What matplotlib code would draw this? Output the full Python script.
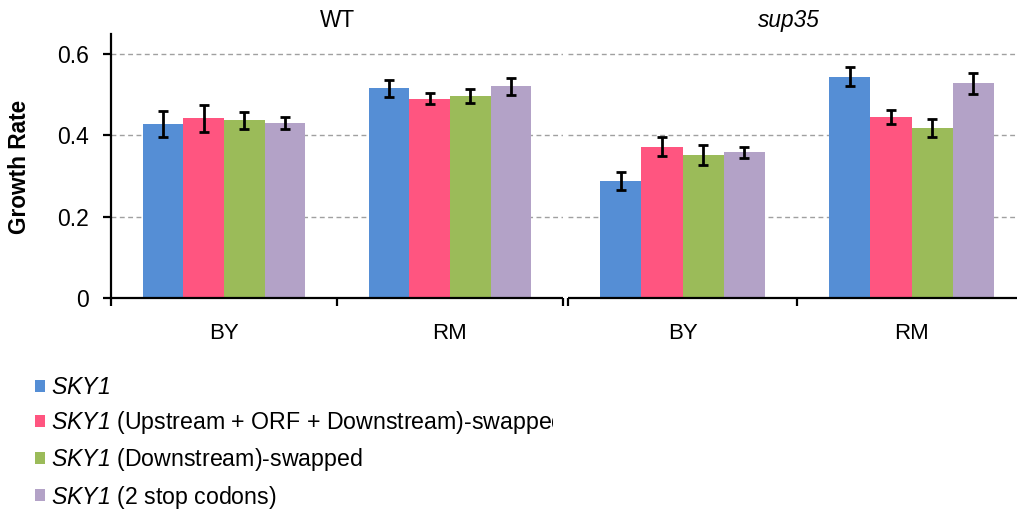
import matplotlib
matplotlib.use("Agg")
import matplotlib.pyplot as plt
import numpy as np
from matplotlib.patches import Patch
from matplotlib.transforms import Bbox, TransformedBbox
from matplotlib.ticker import FixedLocator, FuncFormatter

plt.rcParams["font.family"] = ["Liberation Sans", "DejaVu Sans"]
# gene names are typeset in math mode, fully italic (digits included)
plt.rcParams["mathtext.fontset"] = "custom"
plt.rcParams["mathtext.rm"] = "Liberation Sans:italic"
plt.rcParams["mathtext.it"] = "Liberation Sans:italic"

# ---- data ----
panels = ["WT", "sup35"]
strains = ["BY", "RM"]
series_labels = [
    r"$SKY1$",
    r"$SKY1$ (Upstream + ORF + Downstream)-swapped",
    r"$SKY1$ (Downstream)-swapped",
    r"$SKY1$ (2 stop codons)",
]
colors = ["#558ED5", "#FF5580", "#9BBB59", "#B3A2C7"]

# growth rate per series, [BY, RM]
wt_values = [
    [0.428, 0.516],
    [0.442, 0.490],
    [0.437, 0.497],
    [0.430, 0.521],
]
wt_errors = [
    [0.032, 0.021],
    [0.033, 0.014],
    [0.021, 0.017],
    [0.014, 0.021],
]
sup35_values = [
    [0.288, 0.544],
    [0.372, 0.446],
    [0.352, 0.419],
    [0.358, 0.528],
]
sup35_errors = [
    [0.022, 0.023],
    [0.024, 0.017],
    [0.024, 0.022],
    [0.014, 0.026],
]
yticks = [0, 0.2, 0.4, 0.6]

W, H = 1017, 509
fig = plt.figure(figsize=(W / 100, H / 100), dpi=100)

y_bot = (H - 298) / H
y_top = (H - 33.7) / H
ax_l = fig.add_axes([111 / W, y_bot, (563 - 111) / W, y_top - y_bot])
ax_r = fig.add_axes([568 / W, y_bot, (1026 - 568) / W, y_top - y_bot])

bar_w = 0.18
x = np.arange(len(strains)) + 0.5
offsets = (np.arange(4) - 1.5) * bar_w

for ax, vals, errs in [(ax_l, wt_values, wt_errors),
                       (ax_r, sup35_values, sup35_errors)]:
    for i in range(4):
        ax.bar(x + offsets[i], vals[i], width=bar_w, color=colors[i],
               edgecolor="none", zorder=2)
        ax.errorbar(x + offsets[i], vals[i], yerr=errs[i], fmt="none",
                    ecolor="black", elinewidth=2.0, capsize=3.4,
                    capthick=2.0, zorder=3)
    ax.set_xlim(0, 2)
    ax.set_ylim(0, 0.65)
    ax.set_yticks(yticks)
    ax.yaxis.grid(True, color="#A0A0A0", linestyle=(0, (3.5, 2.5)),
                  linewidth=1.0, zorder=0)
    ax.set_axisbelow(True)
    for s in ["top", "right"]:
        ax.spines[s].set_visible(False)
    ax.spines["bottom"].set_linewidth(1.6)
    ax.spines["bottom"].set_capstyle("butt")
    # category dividers as major ticks, names as minor ticks
    ax.xaxis.set_major_locator(FixedLocator([0, 1, 2]))
    ax.xaxis.set_major_formatter(FuncFormatter(lambda v, p: ""))
    ax.xaxis.set_minor_locator(FixedLocator(x))
    ax.set_xticklabels(strains, minor=True)
    ax.tick_params(axis="x", which="major", direction="out", length=6,
                   width=1.6)
    ax.tick_params(axis="x", which="minor", length=0, pad=18, labelsize=16)

ax_l.spines["left"].set_linewidth(1.6)
ax_l.tick_params(axis="y", direction="out", length=6, width=1.6, pad=10,
                 labelsize=16.5)
ax_l.yaxis.set_major_formatter(
    FuncFormatter(lambda v, p: "0" if v == 0 else f"{v:.1f}"))

ax_r.spines["left"].set_visible(False)
ax_r.tick_params(axis="y", left=False, labelleft=False)

ax_l.set_title(panels[0], fontsize=16.3, pad=4.5)
ax_r.set_title(panels[1], fontsize=16.3, pad=4.5, style="italic", x=0.483)

fig.text(20 / W, 1 - 167 / H, "Growth Rate", rotation=90, ha="center",
         va="center", fontsize=16.3, fontweight="bold")

handles = [Patch(facecolor=c, edgecolor="none") for c in colors]
leg = fig.legend(handles, series_labels, loc="upper left",
                 bbox_to_anchor=(35 / W, 1 - 376 / H), frameon=False,
                 fontsize=16.7, handlelength=0.43, handleheight=0.43,
                 handletextpad=0.25, labelspacing=0.44, borderpad=0,
                 borderaxespad=0)
clip = TransformedBbox(Bbox.from_extents(0, 0, 553 / W, 1), fig.transFigure)
for t in leg.get_texts():
    t.set_clip_on(True)
    t.set_clip_box(clip)

fig.savefig("out.png", dpi=100)
